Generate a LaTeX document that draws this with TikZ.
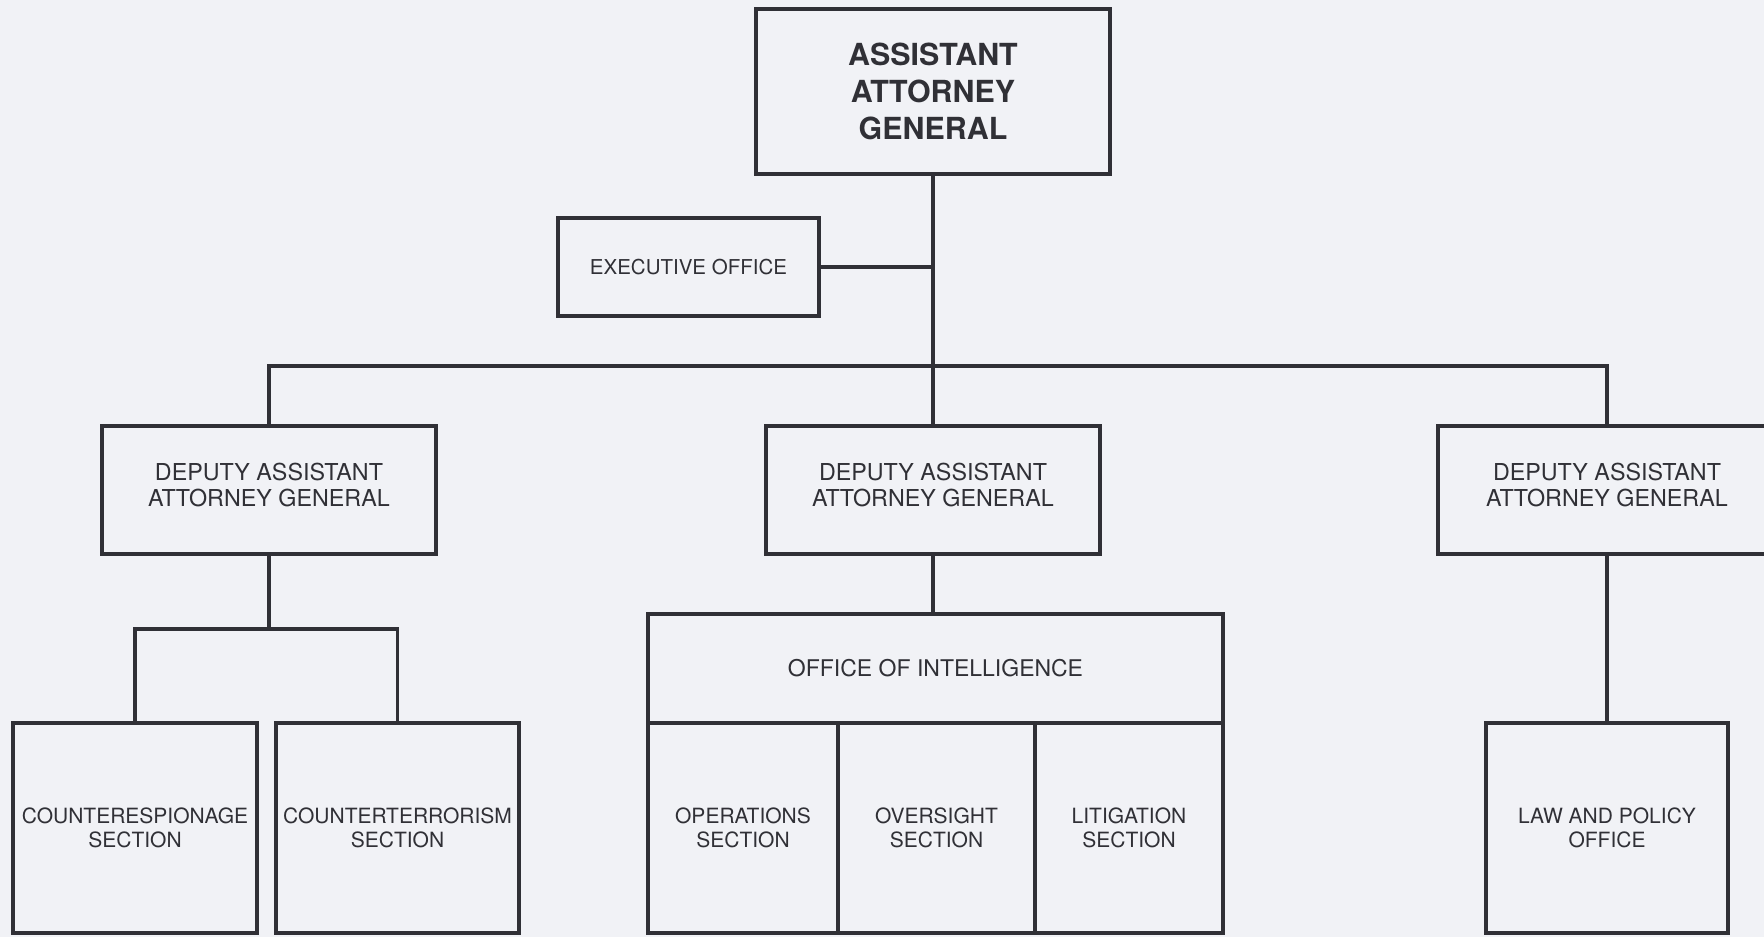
\documentclass[tikz,border=0pt]{standalone}
\usepackage{fontspec}
\setmainfont{TeX Gyre Heros}
\definecolor{bgc}{RGB}{241,242,246}
\definecolor{linec}{RGB}{48,48,54}
\definecolor{txtc}{RGB}{48,48,54}
\begin{document}
\begin{tikzpicture}[x=1pt,y=-1pt,
  box/.style={draw=linec,line width=3.6pt,fill=none,inner sep=0pt,align=center,
     text=txtc,font=\fontsize{21}{23.5}\selectfont},
  daagtext/.style={inner sep=0pt,align=center,text=txtc,font=\fontsize{23.3}{25.5}\selectfont},
  conn/.style={draw=linec,line width=3.4pt,line join=miter}]
\fill[bgc] (0,0) rectangle (1764,937);
\useasboundingbox (0,0) rectangle (1764,937);
\clip (0,0) rectangle (1764,937);
% top
\node[box,minimum width=354,minimum height=165,font=\fontsize{30.4}{37}\selectfont\bfseries] (aag) at (933,91.5) {ASSISTANT\\ATTORNEY\\GENERAL};
\node[box,minimum width=261,minimum height=98,font=\fontsize{20.5}{24}\selectfont] (exec) at (688.5,267) {EXECUTIVE OFFICE};
% deputies
\node[box,minimum width=334,minimum height=128] (daagL) at (269,490) {};
\node[daagtext] (daagLt) at (269,485) {DEPUTY ASSISTANT\\ATTORNEY GENERAL};
\node[box,minimum width=334,minimum height=128] (daagC) at (933,490) {};
\node[daagtext] (daagCt) at (933,485) {DEPUTY ASSISTANT\\ATTORNEY GENERAL};
\node[box,minimum width=338,minimum height=128] (daagR) at (1607,490) {};
\node[daagtext] (daagRt) at (1607,485) {DEPUTY ASSISTANT\\ATTORNEY GENERAL};
% left sections
\node[box,minimum width=244,minimum height=210] (ce) at (135,828) {COUNTERESPIONAGE\\SECTION};
\node[box,minimum width=243,minimum height=210] (ct) at (397.5,828) {COUNTERTERRORISM\\SECTION};
% office of intelligence
\node[box,minimum width=575,minimum height=109,font=\fontsize{23}{25}\selectfont] (oi) at (935.5,668.5) {OFFICE OF INTELLIGENCE};
\node[box,minimum width=190,minimum height=210] (ops) at (743,828) {OPERATIONS\\SECTION};
\node[box,minimum width=197,minimum height=210] (ovs) at (936.5,828) {OVERSIGHT\\SECTION};
\node[box,minimum width=188,minimum height=210] (lit) at (1129,828) {LITIGATION\\SECTION};
% law and policy
\node[box,minimum width=242,minimum height=210] (law) at (1607,828) {LAW AND POLICY\\OFFICE};
% connectors
\coordinate (bus) at (933,366);
\coordinate (br) at (269,629);
\draw[conn] (aag.south) -- (bus);
\draw[conn] (exec.east) -- (exec.east -| aag.south);
\draw[conn] (daagL.north) |- (bus) -| (daagR.north);
\draw[conn] (bus) -- (daagC.north);
\draw[conn] (daagL.south) -- (br);
\draw[conn] (ce.north) |- (br) -| (ct.north);
\draw[conn] (daagC.south) -- (daagC.south |- oi.north);
\draw[conn] (daagR.south) -- (law.north);
\end{tikzpicture}
\end{document}
